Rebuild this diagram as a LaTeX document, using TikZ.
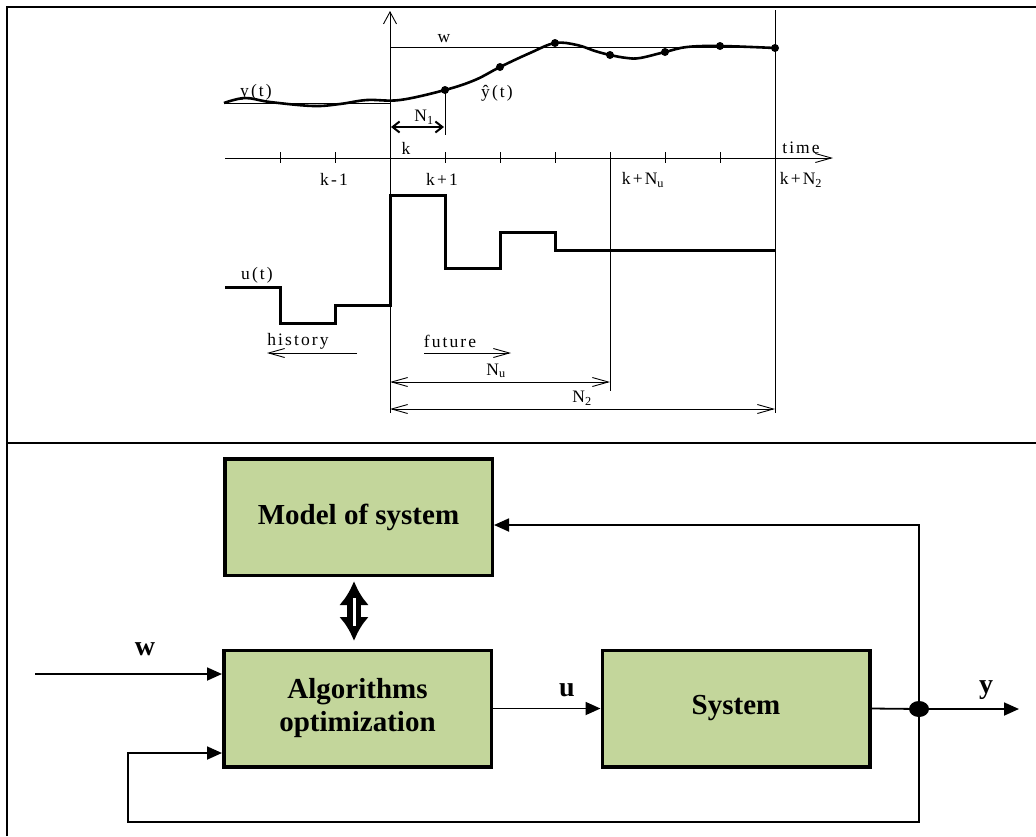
\documentclass[tikz,border=0pt]{standalone}
\usepackage{fontspec}
\setmainfont{Liberation Serif}
\usetikzlibrary{arrows.meta,shapes.geometric}
\definecolor{boxgreen}{HTML}{C3D69B}
\begin{document}
\begin{tikzpicture}[x=1pt,y=-1pt,
  frameline/.style={line width=2.5pt},
  thinline/.style={line width=0.9pt},
  barb/.style={-{Straight Barb[length=16pt,width=9pt]}},
  barbboth/.style={{Straight Barb[length=16pt,width=9pt]}-{Straight Barb[length=16pt,width=9pt]}},
  lbl/.style={font=\fontsize{17.5}{20}\selectfont\addfontfeature{LetterSpace=12}, inner sep=0pt},
  blk/.style={draw, line width=3.5pt, fill=boxgreen, minimum width=267.5pt,
    minimum height=116.5pt, font=\fontsize{29}{33}\selectfont\bfseries, align=center},
  sig/.style={font=\fontsize{28}{30}\selectfont\bfseries, inner sep=0pt},
  conn/.style={line width=1.8pt},
  tip/.style={-{Triangle[length=15pt,width=13pt]}}]
\useasboundingbox (0,0) rectangle (1036,836);

% frame of the two panels
\draw[frameline] (7,836) -- (7,7) -- (1036,7);
\draw[frameline] (7,443) -- (1036,443);

% ---- prediction horizon plot ----
\draw[thinline, -{Straight Barb[length=12pt,width=13pt]}] (390,413) -- (390,11);
\draw[thinline, barb] (225,158) -- (833,158);
\foreach \x in {280,335,445,500,555,665,720}
  \draw[thinline] (\x,152) -- (\x,163);
\draw[thinline] (610,152) -- (610,391);
\draw[thinline] (775,10) -- (775,413);

% set point and output
\draw[thinline] (390,47.5) -- (775,47.5);
\draw[thinline] (224,103) -- (390,103);
\draw[line width=2.6pt, line join=round] plot[smooth, tension=0.6] coordinates {
  (224,103) (245,98) (270,102) (313,106) (340,104) (367,100) (400,100)
  (445,90) (475,80) (500,67) (530,53) (555,43) (577,45) (595,51) (610,55)
  (627,58) (640,58) (665,52) (687,47) (720,46) (775,48)};
\foreach \x/\y in {445/90,500/67,555/43,610/55,665/52,720/46,775/48}
  \fill (\x,\y) circle (4);

\node[lbl] at (444,39) {w};
\node[lbl] at (256,92) {y(t)};
\node[lbl] at (497,93) {ŷ(t)};

% N1 marker
\draw[thinline] (445,90) -- (445,135);
\draw[line width=2pt, {Straight Barb[length=7pt,width=11pt]}-{Straight Barb[length=7pt,width=11pt]}] (391,127) -- (444,127);
\node[lbl] at (424,117) {N\textsubscript{1}};
\node[lbl] at (406,148) {k};

% time axis labels
\node[lbl] at (334,179) {k-1};
\node[lbl] at (442,179) {k+1};
\node[lbl] at (643,180) {k+N\textsubscript{u}};
\node[lbl] at (801,180) {k+N\textsubscript{2}};
\node[lbl] at (801,148) {time};

% control signal
\draw[line width=3pt] (225,287) -- (280,287) -- (280,323) -- (335,323) -- (335,305)
  -- (390,305) -- (390,195) -- (445,195) -- (445,268) -- (500,268) -- (500,232)
  -- (555,232) -- (555,250) -- (775,250);
\node[lbl] at (257,275) {u(t)};

% history / future and horizons
\node[lbl] at (298,341) {history};
\draw[thinline, barb] (357,353) -- (267,353);
\node[lbl] at (450,341) {future};
\draw[thinline, barb] (424,353) -- (511,353);
\draw[thinline, barbboth] (390,382) -- (610,382);
\node[lbl] at (496,371) {N\textsubscript{u}};
\draw[thinline, barbboth] (390,409) -- (775,409);
\node[lbl] at (582,398) {N\textsubscript{2}};

% ---- control loop ----
\node[blk] (model) at (358.5,517) {Model of system};
\node[blk] (algo) at (357.5,708.5) {Algorithms\\optimization};
\node[blk] (sys) at (736,708.5) {System};
\node[ellipse, fill, minimum width=20pt, minimum height=16pt, inner sep=0pt] (jn) at (919,709) {};

\coordinate (ytip) at (1019,709);
\coordinate (fbtop) at (919,525);
\coordinate (fbb1) at (919,822);
\coordinate (fbb2) at (128,822);
\coordinate (fbb3) at (128,753);
\coordinate (win) at (35,674);

\draw[conn] (sys.east) -- (jn.center);
\draw[conn, tip] (jn.center) -- (ytip);
\draw[conn, tip] (jn.center) -- (fbtop) -- (model.east |- fbtop);
\draw[conn, tip] (jn.center) -- (fbb1) -- (fbb2) -- (fbb3) -- (algo.west |- fbb3);
\draw[conn, tip] (win) -- (algo.west |- win);
\draw[conn, tip] (algo.east) -- (sys.west);

\node[sig] at (145,649) {w};
\node[sig] at (567,690) {u};
\node[sig] at (986,690) {y};

% exchange between model and optimizer
\coordinate (xa) at (354,581);
\coordinate (xb) at (354,641);
\draw[line width=14pt, {Latex[length=24pt,width=30pt]}-{Latex[length=24pt,width=30pt]}] (xa) -- (xb);
\draw[white, line width=3pt] (354,598) -- (354,626);
\end{tikzpicture}
\end{document}
